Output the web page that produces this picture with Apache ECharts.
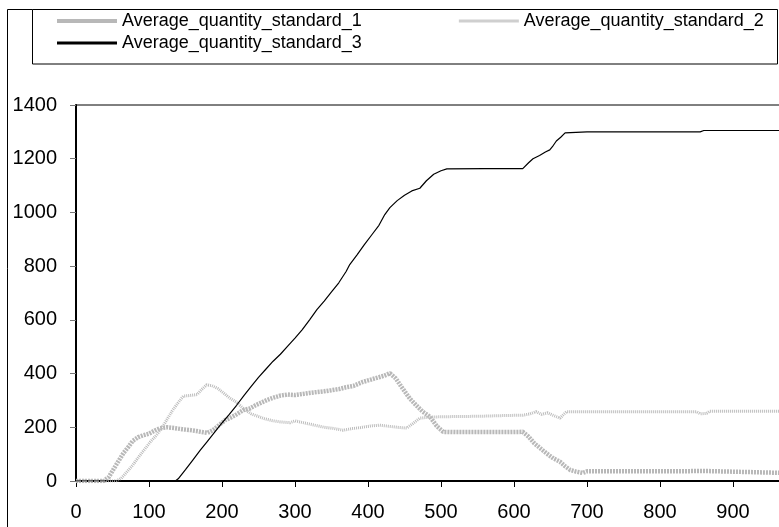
<!DOCTYPE html>
<html>
<head>
<meta charset="utf-8">
<script src="https://cdn.jsdelivr.net/npm/echarts@6/dist/echarts.min.js"></script>
<style>
  html, body { margin: 0; padding: 0; background: #fff; }
  #chart { width: 779px; height: 527px; }
</style>
</head>
<body>
<div id="chart"></div>
<script>
// values
const seriesNames = ['Average_quantity_standard_1', 'Average_quantity_standard_2', 'Average_quantity_standard_3']

const s1X = [0, 38, 45, 55, 65, 72, 78, 85, 92, 100, 108, 115, 125, 135, 145, 155, 165, 175, 180, 188, 196, 204, 212, 220, 229, 238, 246, 254, 262, 270, 280, 290, 300, 310, 320, 330, 340, 350, 360, 370, 380, 393, 402, 412, 422, 430, 438, 446, 457, 466, 475, 485, 494, 503, 520, 560, 590, 612, 620, 628, 636, 645, 654, 663, 670, 677, 685, 694, 700, 760, 866, 868, 970]
const s1Y = [0, 0, 15, 60, 104, 128, 150, 163, 170, 176, 188, 196, 200, 197, 193, 190, 186, 181, 179, 190, 208, 226, 236, 248, 264, 270, 282, 292, 302, 310, 318, 322, 320, 324, 328, 331, 334, 338, 342, 349, 354, 369, 376, 384, 392, 401, 382, 350, 308, 282, 258, 239, 205, 183, 182, 182, 182, 183, 165, 140, 122, 102, 84, 72, 55, 41, 35, 30, 36, 36, 37, 30, 30]

const s2X = [0, 55, 62, 70, 78, 86, 94, 102, 110, 118, 124, 132, 140, 147, 155, 166, 172, 179, 186, 194, 202, 210, 220, 230, 240, 248, 258, 268, 280, 293, 300, 310, 320, 330, 340, 352, 366, 378, 390, 404, 416, 428, 440, 453, 462, 471, 485, 499, 520, 553, 590, 612, 622, 630, 638, 646, 654, 663, 668, 672, 700, 850, 855, 864, 868, 970]
const s2Y = [0, 0, 10, 35, 60, 90, 118, 146, 170, 200, 226, 262, 292, 316, 318, 322, 340, 358, 355, 345, 328, 310, 293, 268, 250, 242, 232, 225, 220, 217, 224, 218, 212, 206, 200, 196, 189, 195, 199, 205, 208, 204, 200, 197, 215, 234, 238, 239, 240, 241, 244, 245, 250, 258, 248, 254, 244, 234, 248, 258, 258, 258, 250, 252, 260, 260]

const s3X = [0, 136, 140, 150, 160, 170, 180, 190, 200, 210, 220, 230, 240, 250, 260, 270, 280, 290, 300, 310, 320, 330, 340, 350, 360, 370, 375, 385, 395, 405, 415, 423, 430, 440, 450, 460, 471, 480, 490, 500, 508, 560, 612, 620, 626, 635, 643, 649, 654, 658, 664, 670, 700, 855, 860, 970]
const s3Y = [0, 0, 8, 42, 78, 114, 148, 182, 216, 248, 282, 318, 352, 386, 416, 446, 472, 502, 532, 564, 600, 638, 670, 704, 738, 780, 806, 842, 880, 916, 952, 992, 1018, 1044, 1064, 1080, 1090, 1118, 1142, 1155, 1162, 1163, 1163, 1185, 1200, 1212, 1225, 1233, 1250, 1266, 1280, 1296, 1300, 1300, 1305, 1305]

const xTicks = { min: 0, max: 1000, interval: 100 }
const yTicks = { min: 0, max: 1400, interval: 200 }

const pairs = (xs, ys) => xs.map((x, i) => [x, ys[i]])

const chart = echarts.init(document.getElementById('chart'))
const font = "'Liberation Sans', Arial, sans-serif"

// flat bar of a given thickness, centred in a 60 x 14 legend box
const legendBar = (h) => {
  const top = 7 - h / 2
  return `path://M0,0L0.01,0L0,0.01Z M0,${top}L60,${top}L60,${top + h}L0,${top + h}Z M0,14L0.01,14L0,13.99Z`
}

const legendText = { fontSize: 18, color: '#000', fontFamily: font }

const option = {
  animation: false,
  backgroundColor: '#fff',
  textStyle: { fontFamily: font },
  legend: [
    {
      data: [
        { name: seriesNames[0], icon: legendBar(4) },
        { name: seriesNames[1], icon: legendBar(3) }
      ],
      left: 52,
      top: 7,
      itemGap: 97,
      itemWidth: 60,
      itemHeight: 14,
      textStyle: legendText
    },
    {
      data: [{ name: seriesNames[2], icon: legendBar(3) }],
      left: 52,
      top: 29,
      itemWidth: 60,
      itemHeight: 14,
      textStyle: legendText
    }
  ],
  grid: {
    left: 76,
    right: -27,
    top: 105,
    bottom: 46,
    outerBoundsMode: 'none',
    containLabel: false,
    show: true,
    borderColor: '#000',
    borderWidth: 1
  },
  xAxis: {
    type: 'value',
    min: xTicks.min,
    max: xTicks.max,
    interval: xTicks.interval,
    splitLine: { show: false },
    axisLine: { lineStyle: { color: '#000', width: 2 } },
    axisTick: { show: true, length: 6, lineStyle: { color: '#000' } },
    axisLabel: { fontSize: 20, color: '#000', margin: 21, fontFamily: font, formatter: (v) => String(v) }
  },
  yAxis: {
    type: 'value',
    min: yTicks.min,
    max: yTicks.max,
    interval: yTicks.interval,
    splitLine: { show: false },
    axisLine: { show: true, lineStyle: { color: '#000', width: 2 } },
    axisTick: { show: true, length: 6, lineStyle: { color: '#777' } },
    axisLabel: { fontSize: 20, color: '#000', margin: 19, fontFamily: font, formatter: (v) => String(v) }
  },
  graphic: [
    { type: 'polyline', silent: true, shape: { points: [[7.5, 540], [7.5, 9.5], [32.5, 9.5]] }, style: { stroke: '#000', lineWidth: 1, fill: null } },
    { type: 'rect', silent: true, shape: { x: 32.5, y: 9.5, width: 745, height: 54.5 }, style: { stroke: '#000', lineWidth: 1, fill: null } }
  ],
  series: [
    {
      name: seriesNames[0],
      type: 'line',
      data: pairs(s1X, s1Y),
      symbol: 'none',
      lineStyle: { color: '#b8b8b8', width: 4.5, type: [2, 1] },
      itemStyle: { color: '#b8b8b8' }
    },
    {
      name: seriesNames[1],
      type: 'line',
      data: pairs(s2X, s2Y),
      symbol: 'none',
      lineStyle: { color: '#bcbcbc', width: 3, type: [1, 1] },
      itemStyle: { color: '#cfcfcf' }
    },
    {
      name: seriesNames[2],
      type: 'line',
      data: pairs(s3X, s3Y),
      symbol: 'none',
      lineStyle: { color: '#000', width: 1.2 },
      itemStyle: { color: '#000' }
    }
  ]
}

chart.setOption(option)
window.addEventListener('resize', () => chart.resize())
</script>
</body>
</html>
